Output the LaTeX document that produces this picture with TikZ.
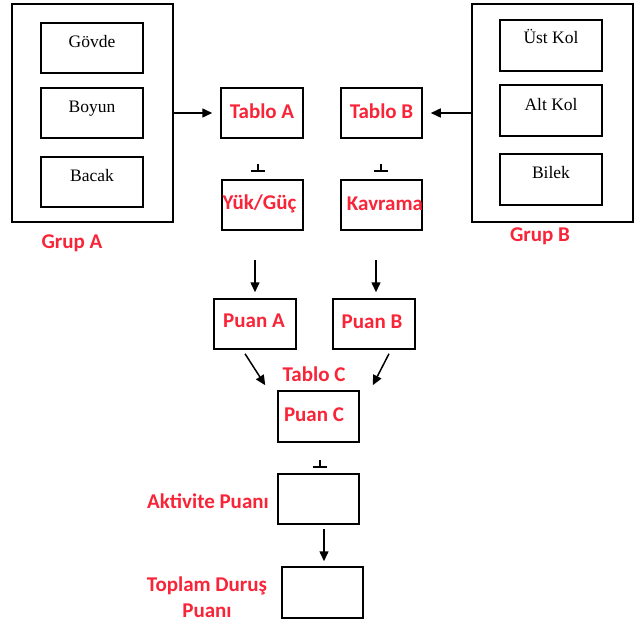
\documentclass[tikz,border=0pt]{standalone}
\usepackage{fontspec}
\setmainfont{Liberation Serif}
\newfontfamily\redfont{Carlito}
\usetikzlibrary{arrows.meta,calc}
\definecolor{redtxt}{RGB}{248,36,56}
\tikzset{
  box/.style={draw=black,line width=1.5pt,rectangle,inner sep=0pt},
  btxt/.style={font=\fontsize{17.5}{20}\selectfont,anchor=base,inner sep=0pt},
  rtxt/.style={font=\redfont\bfseries\fontsize{21}{26}\selectfont,text=redtxt,inner sep=0pt},
  arr/.style={line width=1.5pt,-{Triangle[length=10pt,width=9pt]}},
  plusmark/.style={line width=1.3pt}
}
\begin{document}
\begin{tikzpicture}[x=1pt,y=-1pt]
\useasboundingbox (0,0) rectangle (640,623);
% Group A
\node[box,minimum width=161pt,minimum height=218pt] (GA) at (92.5,113) {};
\node[box,minimum width=102pt,minimum height=50pt] (GV) at (92,48) {};
\node[box,minimum width=102pt,minimum height=50pt] (BY) at (92,113) {};
\node[box,minimum width=102pt,minimum height=50pt] (BC) at (92,182) {};
\node[btxt] (tGV) at (GV.center) {Gövde};
\node[btxt] (tBY) at (BY.center) {Boyun};
\node[btxt] (tBC) at (BC.center) {Bacak};
\node[rtxt] (lGA) at (72,243) {Grup A};
% Group B
\node[box,minimum width=161pt,minimum height=218pt] (GB) at (552.5,113) {};
\node[box,minimum width=102pt,minimum height=51pt] (UK) at (551,45.5) {};
\node[box,minimum width=102pt,minimum height=51pt] (AK2) at (551,110.5) {};
\node[box,minimum width=102pt,minimum height=51pt] (BL) at (551,179.5) {};
\node[btxt] (tUK) at ($(UK.center)+(0,-2)$) {Üst Kol};
\node[btxt] (tAK2) at (AK2.center) {Alt Kol};
\node[btxt] (tBL) at ($(BL.center)+(0,-1)$) {Bilek};
\node[rtxt] (lGB) at (540,236) {Grup B};
% Tablo A / B
\node[box,minimum width=82pt,minimum height=50pt] (TA) at (262,113) {};
\node[rtxt] (tTA) at (262,111) {Tablo A};
\node[box,minimum width=81pt,minimum height=50pt] (TB) at (381.5,113) {};
\node[rtxt] (tTB) at (381.5,111) {Tablo B};
\node[box,minimum width=81pt,minimum height=50pt] (YG) at (262.5,205) {};
\node[rtxt] (tYG) at (259.5,204) {Yük/Güç};
\node[box,minimum width=81pt,minimum height=50pt] (KV) at (381.5,205) {};
\node[rtxt] (tKV) at (385,204) {Kavrama};
% plus marks
\coordinate (p1) at (258,171);
\coordinate (p2) at (381,171);
\coordinate (p3) at (320,467);
\foreach \p in {p1,p2,p3}{
  \draw[plusmark] ($(\p)+(-7,0)$) -- ($(\p)+(7,0)$);
  \draw[plusmark] ($(\p)+(0,-7)$) -- (\p);
}
% arrows into Tablo A / B
\draw[arr,shorten >=8pt] (GA.east) -- (TA.west);
\draw[arr,shorten >=8pt] (GB.west) -- (TB.east);
% Puan A / B
\node[box,minimum width=82pt,minimum height=50pt] (PA) at (255,324) {};
\node[rtxt] (tPA) at (254,321) {Puan A};
\node[box,minimum width=82pt,minimum height=50pt] (PB) at (374,324) {};
\node[rtxt] (tPB) at (372,322) {Puan B};
\draw[arr,shorten <=29pt,shorten >=6pt] (PA.north |- YG.south) -- (PA.north);
\draw[arr,shorten <=29pt,shorten >=6pt] ($(PB.north |- KV.south)+(2,0)$) -- ($(PB.north)+(2,0)$);
% Puan C
\node[rtxt] (tTC) at (314,374) {Tablo C};
\node[box,minimum width=81pt,minimum height=51pt] (PC) at (318.5,416.5) {};
\node[rtxt] (tPC) at (314,415) {Puan C};
\draw[arr] ($(PA.south)+(-10,4)$) -- ($(PC.north west)+(-12,-5)$);
\draw[arr] ($(PB.south)+(15,4)$) -- ($(PC.north east)+(13,-5)$);
% Aktivite
\node[box,minimum width=81pt,minimum height=50pt] (AK) at (318.5,499) {};
\node[rtxt] (tAK) at (208,501) {Aktivite Puanı};
\node[box,minimum width=81pt,minimum height=51pt] (TP) at (322.5,592.5) {};
\node[rtxt,align=center] (tTP) at (207,597) {Toplam Duruş\\Puanı};
\draw[arr,shorten <=4pt,shorten >=5pt] ($(TP.north |- AK.south)+(1.5,0)$) -- ($(TP.north)+(1.5,0)$);
\end{tikzpicture}
\end{document}
